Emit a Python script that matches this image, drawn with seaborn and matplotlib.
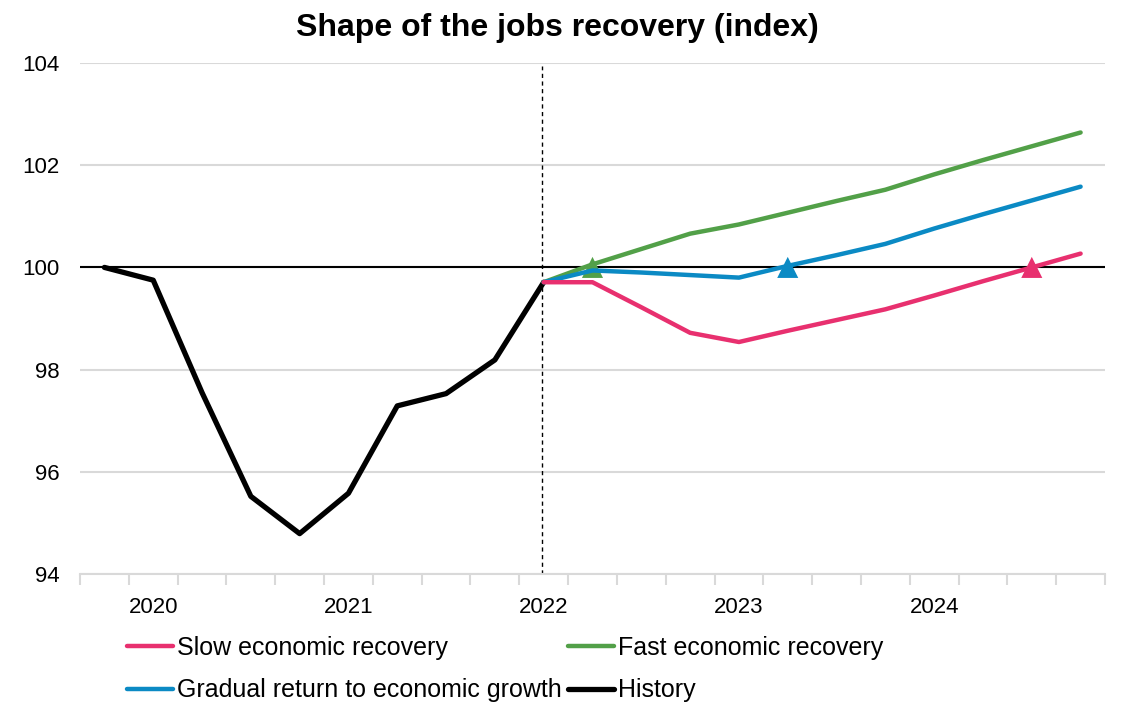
import numpy as np
import pandas as pd
import matplotlib
matplotlib.use("Agg")
import matplotlib.pyplot as plt
import seaborn as sns

# Quarterly timeline, 2019Q4 .. 2024Q4
quarters = ["2019Q4",
            "2020Q1", "2020Q2", "2020Q3", "2020Q4",
            "2021Q1", "2021Q2", "2021Q3", "2021Q4",
            "2022Q1", "2022Q2", "2022Q3", "2022Q4",
            "2023Q1", "2023Q2", "2023Q3", "2023Q4",
            "2024Q1", "2024Q2", "2024Q3", "2024Q4"]
year_labels = ["2020", "2021", "2022", "2023", "2024"]
year_quarters = ["2020Q1", "2021Q1", "2022Q1", "2023Q1", "2024Q1"]

# Employment index (pre-pandemic = 100)
history_quarters = quarters[:10]
history = [100.0, 99.75, 97.55, 95.52, 94.79, 95.58, 97.29, 97.53, 98.19, 99.71]

scenario_quarters = quarters[9:]
slow = [99.71, 99.71, 99.22, 98.72, 98.54, 98.76, 98.97, 99.18, 99.45, 99.73, 100.0, 100.27]
fast = [99.71, 100.06, 100.36, 100.66, 100.84, 101.07, 101.30, 101.52, 101.82, 102.10, 102.37, 102.64]
gradual = [99.71, 99.94, 99.90, 99.85, 99.80, 100.03, 100.24, 100.46, 100.76, 101.04, 101.31, 101.58]

# Quarter in which each scenario regains the pre-pandemic level
recovery_names = ["Fast economic recovery", "Gradual return to economic growth", "Slow economic recovery"]
recovery_quarters = ["2022Q2", "2023Q2", "2024Q3"]
recovery_level = [100.0, 100.0, 100.0]

colors = {
    "Slow economic recovery": "#E8306F",
    "Fast economic recovery": "#52A048",
    "Gradual return to economic growth": "#0B8AC4",
    "History": "#000000",
}

pos = {q: i for i, q in enumerate(quarters)}

sns.set_theme(style="white")
plt.rcParams["font.family"] = ["Liberation Sans", "DejaVu Sans"]
plt.rcParams["text.color"] = "black"
plt.rcParams["xtick.color"] = "black"
plt.rcParams["ytick.color"] = "black"

fig = plt.figure(figsize=(11.22, 7.03), dpi=100)
ax = fig.add_axes([80 / 1122, 1 - 574 / 703, 1025 / 1122, 511 / 703])

hist_df = pd.DataFrame({"x": [pos[q] for q in history_quarters], "y": history})
sns.lineplot(data=hist_df, x="x", y="y", color=colors["History"], lw=3.8,
             ax=ax, label="History", zorder=3)

for name, vals in [("Fast economic recovery", fast),
                   ("Gradual return to economic growth", gradual),
                   ("Slow economic recovery", slow)]:
    df = pd.DataFrame({"x": [pos[q] for q in scenario_quarters], "y": vals})
    sns.lineplot(data=df, x="x", y="y", color=colors[name], lw=3.2,
                 ax=ax, label=name, zorder=4, solid_capstyle="round")

rec_df = pd.DataFrame({"x": [pos[q] for q in recovery_quarters],
                       "y": recovery_level, "scenario": recovery_names})
sns.scatterplot(data=rec_df, x="x", y="y", hue="scenario", palette=colors,
                marker="^", s=230, linewidth=0, ax=ax, legend=False, zorder=3.5)

# Reference lines
ax.axhline(100, color="black", lw=1.5, zorder=2)
ax.axvline(pos["2022Q1"] - 0.04, color="black", lw=1.0, ls=(0, (3, 2.5)),
           ymin=0, ymax=0.995, zorder=2)

# Axes styling
ax.set_xlim(-0.5, len(quarters) - 0.5)
ax.set_ylim(94, 104)
ax.set_yticks([94, 96, 98, 100, 102, 104])
ax.yaxis.grid(True, color="#D9D9D9", lw=1.5)
ax.set_axisbelow(True)
for s in ["left", "right", "top"]:
    ax.spines[s].set_visible(False)
ax.spines["bottom"].set_color("#D9D9D9")
ax.spines["bottom"].set_linewidth(1.5)

ax.set_xticks([pos[q] for q in year_quarters])
ax.set_xticklabels(year_labels)
ax.set_xticks(np.arange(-0.5, len(quarters), 1.0), minor=True)
ax.tick_params(axis="x", which="major", bottom=True, length=0, pad=16.5,
               labelsize=16, labelcolor="black")
ax.tick_params(axis="x", which="minor", bottom=True, length=8, width=1.5,
               color="#D9D9D9", direction="out")
ax.tick_params(axis="y", length=0, pad=15, labelsize=16, labelcolor="black")
ax.set_xlabel("")
ax.set_ylabel("")

fig.suptitle("Shape of the jobs recovery (index)", x=557 / 1122, y=1 - 13 / 703, va="top",
             fontsize=23, fontweight="bold", color="black")

handles, labels = ax.get_legend_handles_labels()
hmap = dict(zip(labels, handles))
order = ["Slow economic recovery", "Gradual return to economic growth",
         "Fast economic recovery", "History"]
ax.legend([hmap[k] for k in order], order, ncol=2, frameon=False,
          loc="upper left", bbox_to_anchor=(127 / 1122, 1 - 636 / 703),
          bbox_transform=fig.transFigure, fontsize=18, borderpad=0,
          handlelength=1.85, handletextpad=0.15, columnspacing=0.25,
          labelspacing=0.74, borderaxespad=0)

fig.savefig("out.png", dpi=100)
